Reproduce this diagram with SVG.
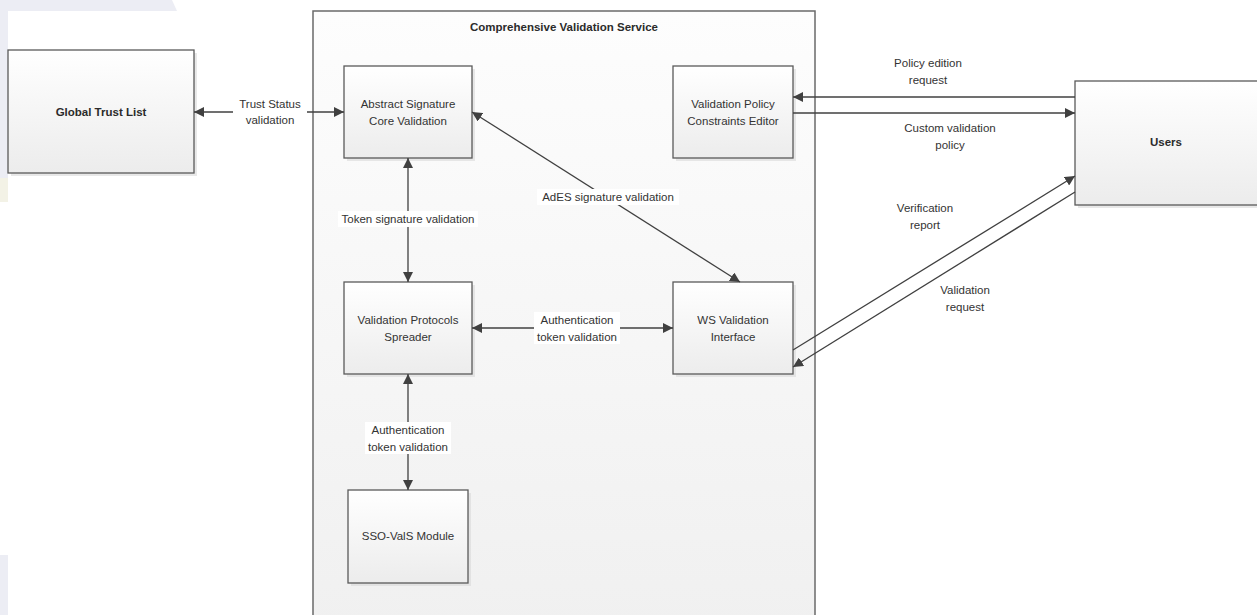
<svg xmlns="http://www.w3.org/2000/svg" width="1257" height="615" viewBox="0 0 1257 615">
  <defs>
    <linearGradient id="boxFill" x1="0" y1="0" x2="0" y2="1">
      <stop offset="0" stop-color="#ffffff"/>
      <stop offset="1" stop-color="#ececec"/>
    </linearGradient>
    <linearGradient id="frameFill" x1="0" y1="0" x2="0" y2="1">
      <stop offset="0" stop-color="#fdfdfd"/>
      <stop offset="1" stop-color="#f0f0f0"/>
    </linearGradient>
    <marker id="arrow" viewBox="0 0 10 10" refX="10" refY="5" markerWidth="10" markerHeight="10" markerUnits="userSpaceOnUse" orient="auto-start-reverse">
      <path d="M0,0 L10,5 L0,10 z" fill="#404040"/>
    </marker>
  </defs>
  <style>
    .box { fill: url(#boxFill); stroke: #5a5a5a; stroke-width: 1.3; }
    .shadow { fill: #d8d8d8; opacity: 0.6; }
    .frame { fill: url(#frameFill); stroke: #6a6a6a; stroke-width: 1.5; }
    .label { font-family: "Liberation Sans", Arial, sans-serif; font-size: 11.5px; fill: #333333; text-anchor: middle; }
    .title { font-family: "Liberation Sans", Arial, sans-serif; font-size: 11.5px; font-weight: bold; fill: #2b2b2b; text-anchor: middle; }
    .conn { stroke: #404040; stroke-width: 1.3; fill: none; }
    .tag { fill: #ffffff; }
  </style>

  <!-- page backdrop -->
  <rect x="0" y="0" width="1257" height="615" fill="#ffffff"/>
  <path d="M0,0 L172,0 L177,11 L8,11 L8,200 L0,200 z" fill="#ecedf4"/>
  <rect x="0" y="178" width="8" height="24" fill="#f3f2e6"/>
  <rect x="0" y="555" width="8" height="60" fill="#ecedf4"/>

  <!-- service frame -->
  <g id="comprehensive-validation-service">
    <rect class="frame" x="313" y="11" width="502" height="620"/>
    <text class="title" x="564" y="31">Comprehensive Validation Service</text>
  </g>

  <g id="global-trust-list">
    <rect class="shadow" x="11" y="53" width="186" height="123"/>
    <rect class="box" x="8" y="50" width="186" height="123"/>
    <text class="title" x="101" y="116">Global Trust List</text>
  </g>

  <g id="abstract-signature-core-validation">
    <rect class="shadow" x="347" y="69" width="128" height="92"/>
    <rect class="box" x="344" y="66" width="128" height="92"/>
    <text class="label" x="408" y="108">Abstract Signature</text>
    <text class="label" x="408" y="125">Core Validation</text>
  </g>

  <g id="validation-policy-constraints-editor">
    <rect class="shadow" x="676" y="69" width="120" height="92"/>
    <rect class="box" x="673" y="66" width="120" height="92"/>
    <text class="label" x="733" y="108">Validation Policy</text>
    <text class="label" x="733" y="125">Constraints Editor</text>
  </g>

  <g id="validation-protocols-spreader">
    <rect class="shadow" x="347" y="285" width="128" height="92"/>
    <rect class="box" x="344" y="282" width="128" height="92"/>
    <text class="label" x="408" y="324">Validation Protocols</text>
    <text class="label" x="408" y="341">Spreader</text>
  </g>

  <g id="ws-validation-interface">
    <rect class="shadow" x="676" y="285" width="120" height="92"/>
    <rect class="box" x="673" y="282" width="120" height="92"/>
    <text class="label" x="733" y="324">WS Validation</text>
    <text class="label" x="733" y="341">Interface</text>
  </g>

  <g id="sso-vals-module">
    <rect class="shadow" x="351" y="493" width="120" height="93"/>
    <rect class="box" x="348" y="490" width="120" height="93"/>
    <text class="label" x="408" y="540">SSO-ValS Module</text>
  </g>

  <g id="users">
    <rect class="shadow" x="1078" y="84" width="182" height="124"/>
    <rect class="box" x="1075" y="81" width="185" height="124"/>
    <text class="title" x="1166" y="146">Users</text>
  </g>

  <g id="connectors">
    <!-- Global Trust List <-> Abstract Signature Core Validation -->
    <line class="conn" x1="194" y1="112" x2="344" y2="112" marker-start="url(#arrow)" marker-end="url(#arrow)"/>
    <rect class="tag" x="233" y="96" width="74" height="30"/>
    <text class="label" x="270" y="108">Trust Status</text>
    <text class="label" x="270" y="124">validation</text>

    <!-- Abstract Signature <-> Validation Protocols Spreader -->
    <line class="conn" x1="408" y1="158" x2="408" y2="282" marker-start="url(#arrow)" marker-end="url(#arrow)"/>
    <rect class="tag" x="338" y="211" width="140" height="16"/>
    <text class="label" x="408" y="223">Token signature validation</text>

    <!-- Abstract Signature <-> WS Validation Interface -->
    <line class="conn" x1="472" y1="112" x2="740" y2="282" marker-start="url(#arrow)" marker-end="url(#arrow)"/>
    <rect class="tag" x="537" y="189" width="142" height="16"/>
    <text class="label" x="608" y="201">AdES signature validation</text>

    <!-- Validation Protocols Spreader <-> WS Validation Interface -->
    <line class="conn" x1="472" y1="328" x2="673" y2="328" marker-start="url(#arrow)" marker-end="url(#arrow)"/>
    <rect class="tag" x="534" y="312" width="86" height="32"/>
    <text class="label" x="577" y="324">Authentication</text>
    <text class="label" x="577" y="341">token validation</text>

    <!-- Validation Protocols Spreader <-> SSO-ValS Module -->
    <line class="conn" x1="408" y1="374" x2="408" y2="490" marker-start="url(#arrow)" marker-end="url(#arrow)"/>
    <rect class="tag" x="365" y="422" width="86" height="32"/>
    <text class="label" x="408" y="434">Authentication</text>
    <text class="label" x="408" y="451">token validation</text>

    <!-- Users -> Validation Policy Constraints Editor -->
    <line class="conn" x1="1075" y1="97" x2="793" y2="97" marker-end="url(#arrow)"/>
    <text class="label" x="928" y="67">Policy edition</text>
    <text class="label" x="928" y="84">request</text>

    <!-- Validation Policy Constraints Editor -> Users -->
    <line class="conn" x1="793" y1="113" x2="1075" y2="113" marker-end="url(#arrow)"/>
    <text class="label" x="950" y="132">Custom validation</text>
    <text class="label" x="950" y="149">policy</text>

    <!-- WS Validation Interface -> Users -->
    <line class="conn" x1="793" y1="350" x2="1075" y2="176" marker-end="url(#arrow)"/>
    <text class="label" x="925" y="212">Verification</text>
    <text class="label" x="925" y="229">report</text>

    <!-- Users -> WS Validation Interface -->
    <line class="conn" x1="1075" y1="192" x2="793" y2="367" marker-end="url(#arrow)"/>
    <text class="label" x="965" y="294">Validation</text>
    <text class="label" x="965" y="311">request</text>
  </g>
</svg>
